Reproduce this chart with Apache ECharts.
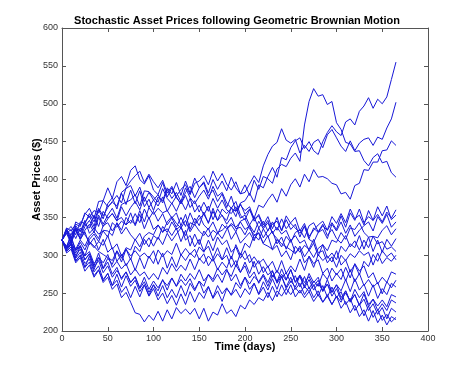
<!DOCTYPE html>
<html><head><meta charset="utf-8">
<script src="https://cdn.jsdelivr.net/npm/echarts@6/dist/echarts.min.js"></script>
<style>html,body{margin:0;padding:0;background:#fff}#c{width:474px;height:374px}</style>
</head><body><div id="c"></div>
<script>
const days = [0,5,10,15,20,25,30,35,40,45,50,55,60,65,70,75,80,85,90,95,100,105,110,115,120,125,130,135,140,145,150,155,160,165,170,175,180,185,190,195,200,205,210,215,220,225,230,235,240,245,250,255,260,265,270,275,280,285,290,295,300,305,310,315,320,325,330,335,340,345,350,355,360,365];
const xTicks = [0,50,100,150,200,250,300,350,400];
const yTicks = [200,250,300,350,400,450,500,550,600];

const s1 = [320,332,318,337,326, 343,352,338,360,348, 368,376,361,383,388, 392,378,390,371,383, 373,365,377,358,369, 358,372,360,375,357, 366,353,365,347,361, 352,346,363,351,369, 372,382,370,393,389, 404,416,403,429,426, 442,451,455,441,450, 438,433,450,462,471, 463,458,476,480,472, 490,497,508,494,506, 500,509,532,555];
const s2 = [320,335,322,344,340, 354,362,348,371,372, 389,375,397,404,392, 412,418,400,394,405, 386,380,396,377,389, 376,368,383,391,376, 389,397,382,400,387, 398,385,403,389,381, 393,379,399,387,404, 401,395,414,420,417, 428,435,424,472,503, 520,510,512,499,503, 475,466,449,447,437, 438,425,418,429,434, 422,424,409,403];
const s3 = [320,310,329,333,323, 338,346,334,353,341, 353,362,349,367,370, 373,380,365,385,384, 377,370,388,375,368, 378,387,393,380,395, 398,405,393,411,398, 408,394,386,397,381, 383,394,405,396,418, 433,444,449,467,452, 448,453,435,445,437, 449,453,442,459,466, 455,444,437,451,438, 448,453,455,445,456, 453,468,480,502];
const s4 = [320,329,315,334,321, 333,341,330,350,338, 348,355,345,364,352, 363,371,360,377,363, 373,380,369,387,375, 383,371,389,376,368, 378,386,374,391,378, 383,369,362,371,353, 347,360,349,366,363, 373,381,370,388,378, 393,401,390,407,397, 413,403,404,401,395, 393,381,383,374,392, 395,413,412,423,423, 438,439,451,445];
const s5 = [320,332,338,327,344, 342,355,344,362,352, 363,371,379,369,389, 398,405,411,396,407, 397,389,399,382,391, 377,368,379,363,372, 357,370,358,375,362, 373,360,355,364,349, 353,340,350,336,345, 332,344,333,348,335, 343,350,332,342,325, 333,340,345,333,351, 342,355,343,361,348, 353,340,359,346,364, 352,365,347,353];
const s6 = [320,312,325,306,317, 307,321,328,318,333, 332,326,343,333,350, 342,355,343,361,348, 358,345,355,340,349, 337,350,338,356,342, 353,340,334,344,330, 333,339,321,331,316, 323,330,319,336,323, 333,341,345,333,352, 342,336,329,338,321, 317,330,334,322,341, 332,344,329,340,325, 333,339,344,332,351, 342,354,337,344];
const s7 = [320,329,334,322,336, 327,318,312,305,301, 297,293,306,296,310, 307,321,311,325,330, 327,340,330,344,351, 342,336,346,331,341, 332,326,336,319,330, 322,334,340,331,345, 348,335,327,329,315, 312,308,321,311,325, 317,330,334,323,339, 343,331,341,326,334, 322,316,326,311,319, 307,320,310,325,323, 333,339,327,335];
const s8 = [320,310,321,308,320, 312,325,331,322,339, 343,332,342,328,337, 327,320,329,314,323, 312,324,314,329,319, 328,336,326,343,340, 348,354,343,358,346, 353,341,350,335,337, 327,340,330,345,335, 343,329,322,315,311, 307,302,312,298,307, 297,309,314,306,320, 317,330,321,336,334, 343,330,324,325,315, 318,308,311,305];
const s9 = [320,334,321,339,331, 346,329,336,328,332, 324,343,337,345,340, 356,339,354,335,350, 334,340,331,335,326, 336,318,333,312,328, 314,332,324,333,328, 341,335,342,337,344, 334,339,322,330,316, 326,307,313,298,306, 294,312,304,313,308, 321,303,306,290,298, 284,300,293,302,297, 306,300,304,287,303, 289,297,292,300];
const s10 = [320,310,316,307,312, 299,317,310,318,313, 326,308,315,299,308, 294,312,305,321,311, 326,321,338,330,344, 334,339,320,326,311, 321,305,312,296,310, 294,310,295,314,300, 316,310,327,320,335, 324,332,315,324,308, 321,303,309,290,298, 284,301,293,299,291, 306,287,294,278,288, 274,292,285,301,292, 306,298,303,294];
const s11 = [320,308,315,297,312, 294,302,286,303,283, 296,288,305,291,308, 299,306,298,303,296, 306,288,303,283,298, 284,301,293,303,297, 311,304,320,306,324, 314,320,304,311,296, 306,290,298,289,295, 284,292,277,293,276, 286,278,295,280,299, 289,294,276,283,266, 276,268,284,270,289, 279,286,270,277,262, 271,264,278,275];
const s12 = [320,332,316,335,321, 331,314,323,307,321, 304,310,292,301,286, 296,280,297,282,299, 289,307,298,306,301, 316,300,309,301,308, 294,302,286,296,281, 291,283,299,285,303, 294,301,284,293,277, 286,271,280,270,277, 264,273,258,272,256, 266,259,276,268,283, 274,282,266,281,265, 276,260,268,258,264, 249,265,257,267];
const s13 = [320,305,311,292,300, 284,299,281,297,290, 301,284,292,282,289, 274,282,273,278,268, 276,268,284,275,289, 279,287,280,295,281, 296,289,299,292,302, 294,300,284,293,278, 286,270,278,263,273, 259,274,265,275,267, 281,265,274,264,272, 259,267,252,268,251, 261,253,268,252,269, 254,262,246,261,243, 256,248,263,258];
const s14 = [320,309,315,300,308, 294,302,284,293,277, 286,271,280,270,278, 264,272,257,271,255, 266,257,267,260,270, 259,275,266,276,268, 281,266,274,265,275, 264,280,272,287,277, 291,276,292,275,285, 274,280,263,272,256, 266,258,273,259,276, 264,271,253,262,246, 256,241,250,240,248, 234,249,232,242,233, 241,232,248,245];
const s15 = [320,311,318,303,313, 299,305,289,297,282, 291,275,284,268,278, 264,271,256,265,251, 261,246,260,244,255, 244,260,246,263,253, 266,259,275,268,283, 274,282,266,275,260, 271,255,263,248,258, 244,259,245,261,248, 261,245,254,244,252, 239,248,238,246,235, 246,238,253,239,255, 244,252,235,242,227, 236,227,241,237];
const s16 = [320,307,314,296,304, 289,295,278,286,268, 276,260,267,251,259, 244,259,245,261,247, 261,253,268,254,270, 259,268,260,269,255, 266,250,259,243,253, 239,256,248,264,256, 271,262,272,265,275, 264,279,265,282,268, 281,264,272,257,268, 254,263,253,262,251, 261,244,253,238,248, 234,242,227,236,222, 231,216,230,225];
const s17 = [320,306,311,293,300, 284,291,273,281,264, 271,255,262,244,251, 238,224,222,212,221, 214,226,213,228,216, 231,223,229,222,230, 216,230,213,225,221, 236,223,228,219,234, 229,241,235,244,240, 251,240,253,246,256, 248,257,250,259,252, 261,246,260,245,258, 244,252,235,243,227, 236,220,233,218,228, 214,222,212,218];
const s18 = [320,303,308,290,297, 279,287,271,280,266, 276,260,275,258,273, 259,267,252,261,246, 256,241,250,236,247, 234,249,235,252,238, 251,243,258,244,260, 249,257,247,255,244, 256,248,263,249,265, 254,269,255,272,258, 271,255,263,248,258, 244,253,238,248,235, 246,230,239,224,234, 219,228,213,227,211, 221,208,219,215];
const s19 = [320,333,327,335,332, 341,336,353,338,358, 349,355,346,350,340, 346,341,359,344,363, 354,362,356,359,349, 356,339,354,334,349, 339,357,342,362,346, 361,355,362,358,366, 359,364,348,352,337, 346,329,337,328,333, 319,326,316,320,306, 316,299,314,296,303, 294,312,305,315,310, 326,308,324,305,320, 304,321,312,322];
const s20 = [320,336,332,341,338, 356,350,359,356,372, 364,370,365,382,367, 386,368,385,364,374, 359,377,372,389,381, 396,379,398,382,402, 389,395,378,386,371, 381,363,378,358,368, 354,361,345,354,340, 351,335,350,332,347, 334,341,324,339,322, 336,330,339,333,343, 334,352,337,356,346, 361,343,351,346,354, 344,357,349,360];

const allSeries = [s1,s2,s3,s4,s5,s6,s7,s8,s9,s10,s11,s12,s13,s14,s15,s16,s17,s18,s19,s20];

const chart = echarts.init(document.getElementById('c'), null, {renderer:'canvas'});
const axisColor = '#555';
const font = 'Liberation Sans, Arial, sans-serif';
const lblStyle = {color:'#333', fontSize:9, fontFamily:font};
const baseX = {type:'value', min:0, max:400, interval:50, splitLine:{show:false},
  axisLine:{show:true, onZero:false, lineStyle:{color:axisColor, width:1}},
  axisTick:{show:true, inside:true, length:4, lineStyle:{color:axisColor}}};
const baseY = {type:'value', min:200, max:600, interval:50, splitLine:{show:false},
  axisLine:{show:true, onZero:false, lineStyle:{color:axisColor, width:1}},
  axisTick:{show:true, inside:true, length:4, lineStyle:{color:axisColor}}};
chart.setOption({
  animation:false,
  backgroundColor:'#fff',
  title:{text:'Stochastic Asset Prices following Geometric Brownian Motion', left:'center', top:10,
    textStyle:{fontSize:11, fontWeight:'bold', color:'#000', fontFamily:font}},
  grid:{left:62, right:46, top:28, bottom:43},
  xAxis:[
    Object.assign({}, baseX, {position:'bottom', name:'Time (days)', nameLocation:'middle', nameGap:10,
      nameMoveOverlap:false,
      nameTextStyle:{fontSize:11, fontWeight:'bold', color:'#000', fontFamily:font},
      axisLabel:Object.assign({margin:3}, lblStyle)}),
    Object.assign({}, baseX, {position:'top', axisLabel:{show:false}})
  ],
  yAxis:[
    Object.assign({}, baseY, {position:'left', name:'Asset Prices ($)', nameLocation:'middle', nameGap:20,
      nameMoveOverlap:false,
      nameTextStyle:{fontSize:11, fontWeight:'bold', color:'#000', fontFamily:font},
      axisLabel:Object.assign({margin:4}, lblStyle)}),
    Object.assign({}, baseY, {position:'right', axisLabel:{show:false}})
  ],
  series: allSeries.map((s, k) => ({
    type:'line', name:'path'+(k+1), showSymbol:false, symbol:'none',
    lineStyle:{color:'#1818d8', width:1}, itemStyle:{color:'#1818d8'},
    data: days.map((d,i) => [d, s[i]])
  }))
});
</script>
</body></html>
